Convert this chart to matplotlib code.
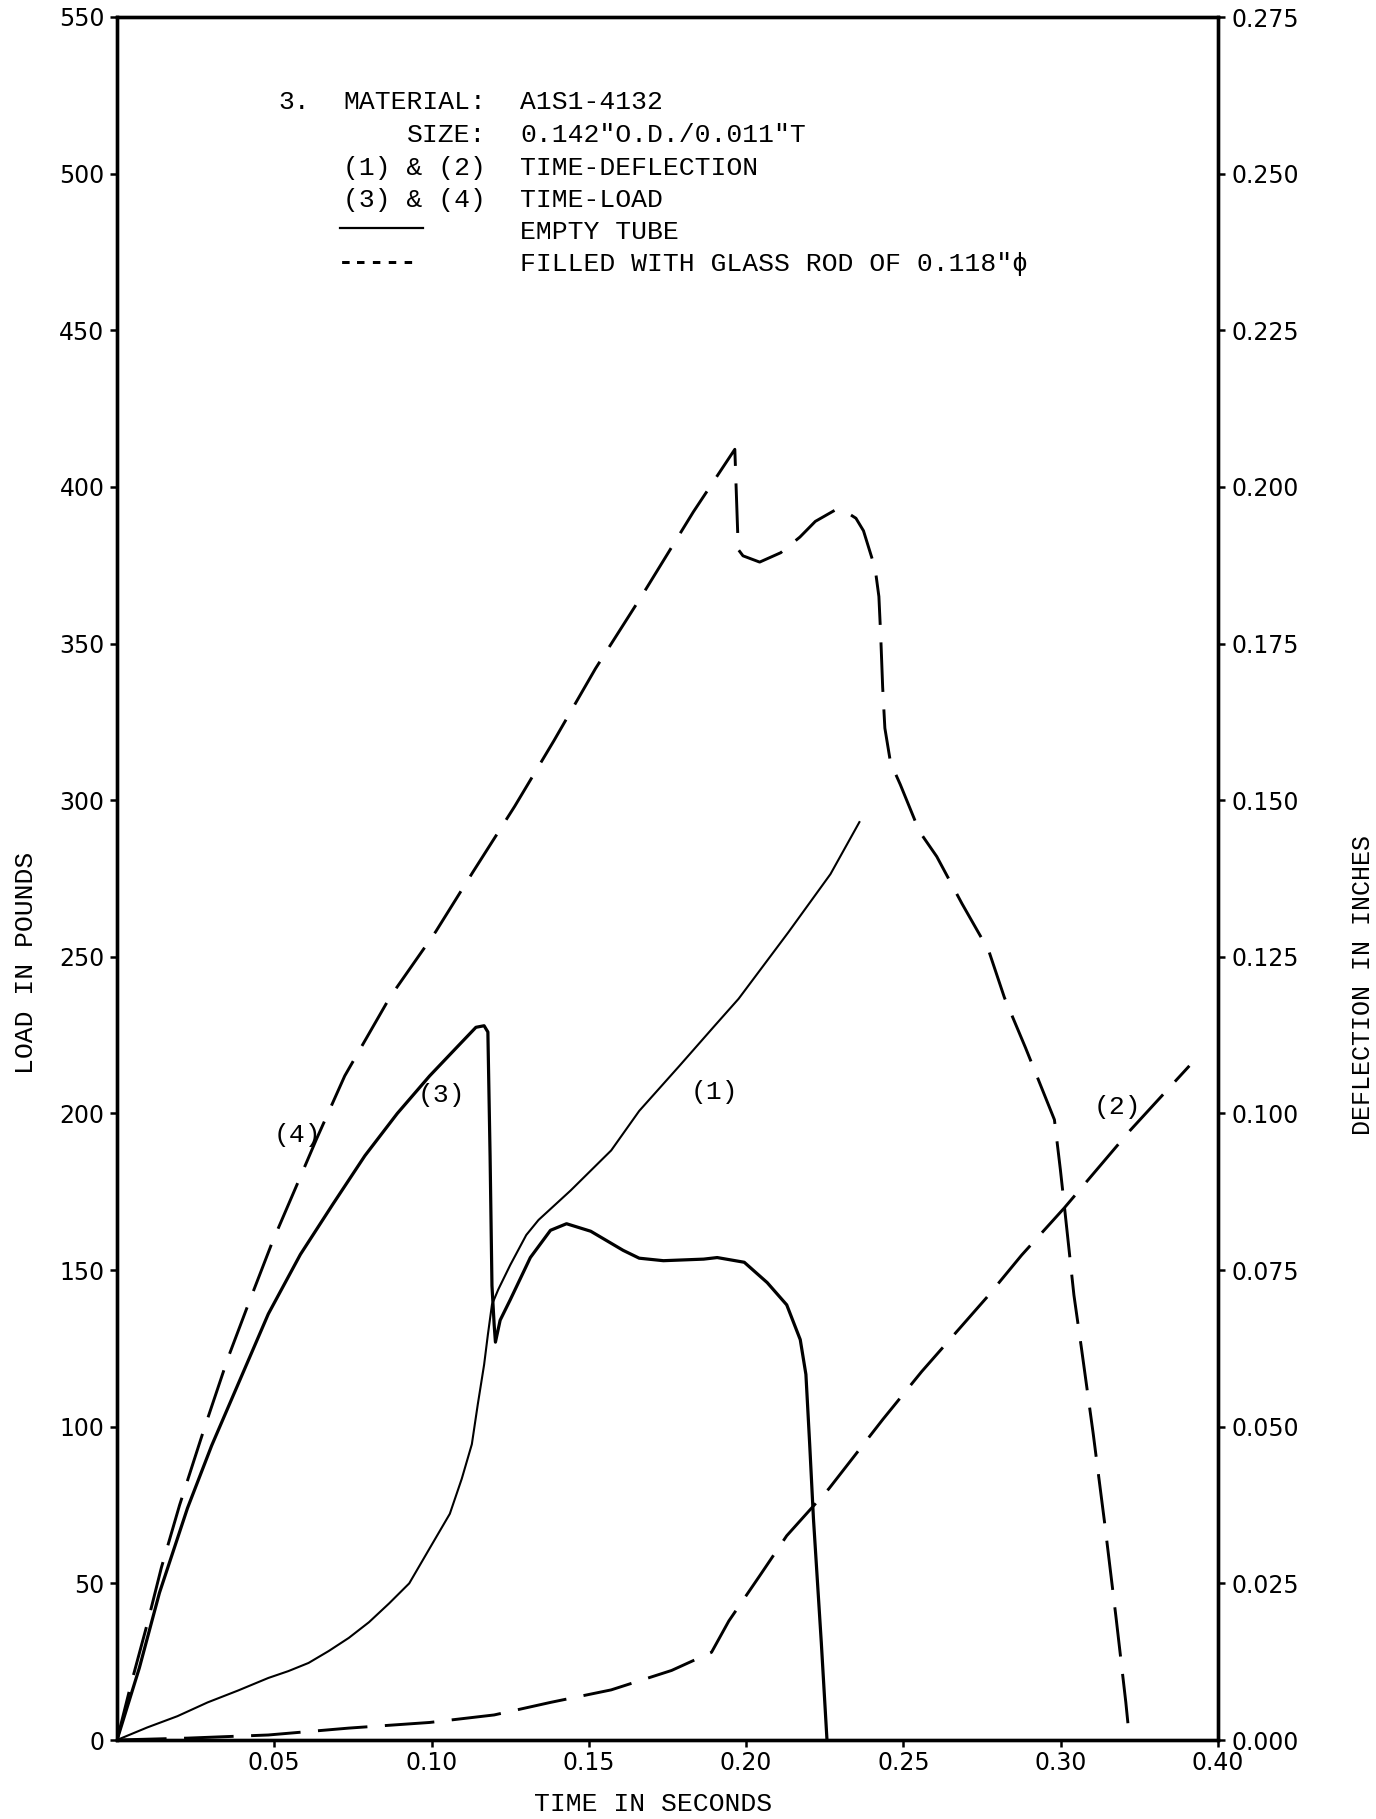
import matplotlib
matplotlib.use("Agg")
import matplotlib.pyplot as plt
from matplotlib.lines import Line2D

# time in seconds / load in pounds (curves 3 and 4)
t_load_empty = [0, 0.0071, 0.0135, 0.0224, 0.0301, 0.0391, 0.0481, 0.0583, 0.0686, 0.0788,
                0.0891, 0.0994, 0.1083, 0.1141, 0.1167, 0.1179, 0.1186, 0.1192, 0.1199, 0.1203,
                0.1218, 0.1250, 0.1314, 0.1378, 0.1429, 0.1506, 0.1609, 0.1660, 0.1737, 0.1865,
                0.1908, 0.1994, 0.2067, 0.2129, 0.2172, 0.2190, 0.2202, 0.2214, 0.2239, 0.2257]
load_empty = [0, 23, 47, 74, 94, 115, 136, 155, 171, 186.5,
              200, 212, 221.4, 227.5, 228, 226, 186.5, 145, 132.5, 127,
              134, 140.5, 154, 162.7, 164.8, 162.4, 156.3, 153.8, 153, 153.5,
              154, 152.5, 146, 138.9, 127.8, 116.7, 94.4, 70.6, 31, 0]

t_load_filled = [0, 0.0045, 0.0096, 0.0141, 0.0199, 0.0276, 0.0353, 0.0417, 0.0494, 0.0571,
                 0.0635, 0.0724, 0.0867, 0.1013, 0.1131, 0.1264, 0.1389, 0.1521, 0.1673, 0.1832,
                 0.1964, 0.1975, 0.1990, 0.2043, 0.2110, 0.2171, 0.2220, 0.2281, 0.2318, 0.2349,
                 0.2373, 0.2410, 0.2422, 0.2428, 0.2434, 0.2441, 0.2459, 0.2490, 0.2551, 0.2606,
                 0.2686, 0.2771, 0.2821, 0.2888, 0.2980, 0.2999, 0.3011, 0.3042, 0.3066, 0.3103,
                 0.3140, 0.3176, 0.3207, 0.3219]
load_filled = [0, 18, 37, 55, 75, 99, 122, 139, 159, 177,
               192, 212, 237, 258, 277, 298, 319, 342, 366, 392,
               412, 380, 378, 376, 379, 384, 389, 392.5, 392, 390,
               386, 374, 365, 352, 336, 323, 312, 305, 290, 282,
               267, 252, 237, 221, 198, 182, 171, 142, 125, 98,
               69, 39, 12, 0]

# time in seconds / deflection in inches (curves 1 and 2)
t_defl_empty = [0, 0.0096, 0.0192, 0.0288, 0.0385, 0.0481, 0.0545, 0.0609, 0.0673, 0.0737,
                0.0801, 0.0865, 0.0929, 0.0994, 0.1058, 0.1096, 0.1128, 0.1147, 0.1167, 0.1179,
                0.1192, 0.1212, 0.1250, 0.1301, 0.1340, 0.1442, 0.1571, 0.1660, 0.1788, 0.1900,
                0.1976, 0.2134, 0.2268, 0.2360]
defl_empty = [0, 0.0020, 0.0038, 0.0060, 0.0079, 0.0099, 0.0110, 0.0123, 0.0142, 0.0163,
              0.0188, 0.0218, 0.0250, 0.0306, 0.0361, 0.0417, 0.0472, 0.0536, 0.0599, 0.0647,
              0.0695, 0.0719, 0.0758, 0.0806, 0.0830, 0.0877, 0.0941, 0.1004, 0.1076, 0.1140,
              0.1183, 0.1289, 0.1382, 0.1465]

t_defl_filled = [0, 0.0224, 0.0481, 0.0737, 0.0994, 0.1199, 0.1378, 0.1571, 0.1763, 0.1890,
                 0.1945, 0.2043, 0.2129, 0.2263, 0.2435, 0.2558, 0.2766, 0.2876, 0.3011, 0.3219,
                 0.3409]
defl_filled = [0, 0.0003, 0.0008, 0.0019, 0.0028, 0.0040, 0.0060, 0.0080, 0.0111, 0.0140,
               0.0190, 0.0262, 0.0326, 0.0401, 0.0512, 0.0588, 0.0707, 0.0774, 0.0849, 0.0972,
               0.1076]

x_ticks = [0.05, 0.10, 0.15, 0.20, 0.25, 0.30, 0.35]
x_tick_labels = ["0.05", "0.10", "0.15", "0.20", "0.25", "0.30", "0.40"]
load_ticks = list(range(0, 551, 50))
defl_ticks = [i * 0.025 for i in range(12)]

curve_labels = ["(4)", "(3)", "(1)", "(2)"]
curve_label_pos = [(0.0575, 193), (0.103, 206), (0.190, 207), (0.318, 202)]

legend_left = ["MATERIAL:", "SIZE:", "(1) & (2)", "(3) & (4)"]
legend_right = ["A1S1-4132", "0.142\"O.D./0.011\"T", "TIME-DEFLECTION", "TIME-LOAD",
                "EMPTY TUBE", "FILLED WITH GLASS ROD OF 0.118\"\u03d5"]

W, H = 1376, 1819
mono = ["Liberation Mono", "DejaVu Sans Mono"]

fig = plt.figure(figsize=(W / 100, H / 100), dpi=100)
ax = fig.add_axes([117 / W, 1 - 1740 / H, (1218 - 117) / W, (1740 - 17) / H])
ax2 = ax.twinx()

dash = (0, (17, 6))
ax.plot(t_load_empty, load_empty, color="black", lw=2.3, solid_joinstyle="round")
ax.plot(t_load_filled, load_filled, color="black", lw=2.1, linestyle=dash)
ax2.plot(t_defl_empty, defl_empty, color="black", lw=1.5, solid_joinstyle="round")
ax2.plot(t_defl_filled, defl_filled, color="black", lw=2.1, linestyle=dash)

ax.set_xlim(0, 0.35)
ax.set_ylim(0, 550)
ax2.set_ylim(0, 0.275)

ax.set_xticks(x_ticks)
ax.set_xticklabels(x_tick_labels)
ax.set_yticks(load_ticks)
ax.set_yticklabels([str(v) for v in load_ticks])
ax2.set_yticks(defl_ticks)
ax2.set_yticklabels(["%.3f" % v for v in defl_ticks])

for a in (ax, ax2):
    for s in a.spines.values():
        s.set_linewidth(2.4)
    a.tick_params(direction="out", length=5, width=1.8, labelsize=17)
ax.tick_params(axis="x", pad=3)
ax.tick_params(axis="y", pad=4)
ax2.tick_params(axis="y", pad=5)

for lab, (tx, ly) in zip(curve_labels, curve_label_pos):
    ax.text(tx, ly, lab, family=mono, fontsize=19, ha="center", va="center")

# typed legend block
fig.text(278 / W, 1 - 102 / H, "3.", family=mono, fontsize=19, va="center")
rows_y = [102, 135, 168, 200, 232, 264]
for lab, yy in zip(legend_left, rows_y):
    fig.text(486 / W, 1 - yy / H, lab, family=mono, fontsize=19, ha="right", va="center")
for lab, yy in zip(legend_right, rows_y):
    fig.text(520 / W, 1 - yy / H, lab, family=mono, fontsize=19, va="center")
fig.add_artist(Line2D([340 / W, 423 / W], [1 - 228 / H, 1 - 228 / H],
                      transform=fig.transFigure, color="black", lw=1.6))
fig.text(338 / W, 1 - 262 / H, "-----", family=mono, fontsize=19, fontweight="bold",
         va="center")

fig.text(26 / W, 1 - 963 / H, "LOAD IN POUNDS", family=mono, fontsize=19,
         rotation=90, ha="center", va="center")
fig.text(1363 / W, 1 - 985 / H, "DEFLECTION IN INCHES", family=mono, fontsize=18,
         rotation=90, ha="center", va="center")
fig.text(653 / W, 1 - 1804 / H, "TIME IN SECONDS", family=mono, fontsize=19,
         ha="center", va="center")

fig.savefig("out.png", dpi=100, facecolor="white")
